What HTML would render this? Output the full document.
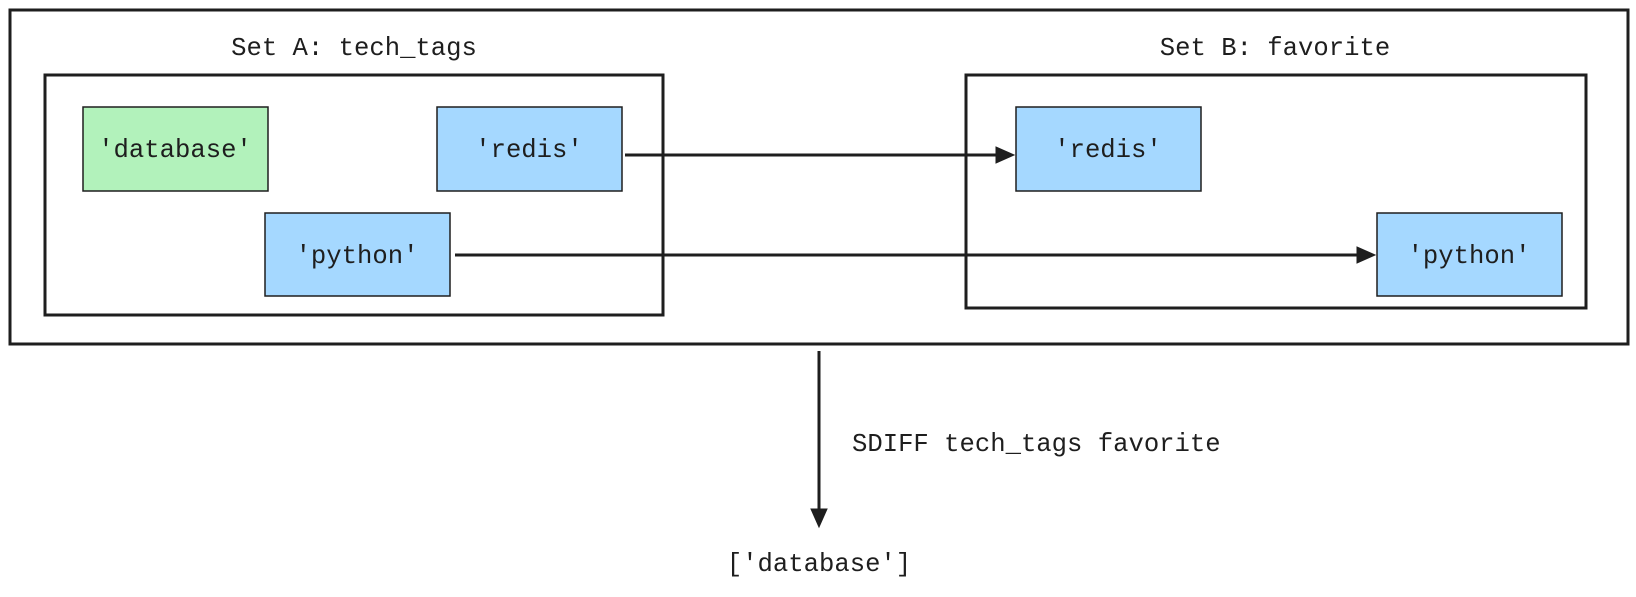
<!DOCTYPE html>
<html><head><style>body{margin:0;background:#fff}</style></head><body>
<svg width="1636" height="592" xmlns="http://www.w3.org/2000/svg" font-family="Liberation Mono, monospace" font-size="25.6" fill="#1e1e1e">
<rect x="10" y="10" width="1618" height="334" fill="none" stroke="#1e1e1e" stroke-width="3"/>
<rect x="45" y="75" width="618" height="240" fill="none" stroke="#1e1e1e" stroke-width="3"/>
<rect x="966" y="75" width="620" height="233" fill="none" stroke="#1e1e1e" stroke-width="3"/>
<text x="354" y="55" text-anchor="middle">Set A: tech_tags</text>
<text x="1275" y="55" text-anchor="middle">Set B: favorite</text>
<g stroke="#1e1e1e" stroke-width="1.5">
<rect x="83" y="107" width="185" height="84" fill="#b2f2bb"/>
<rect x="437" y="107" width="185" height="84" fill="#a5d8ff"/>
<rect x="265" y="213" width="185" height="83" fill="#a5d8ff"/>
<rect x="1016" y="107" width="185" height="84" fill="#a5d8ff"/>
<rect x="1377" y="213" width="185" height="83" fill="#a5d8ff"/>
</g>
<g text-anchor="middle">
<text x="175" y="157">'database'</text>
<text x="529" y="157">'redis'</text>
<text x="357" y="263">'python'</text>
<text x="1108" y="157">'redis'</text>
<text x="1469" y="263">'python'</text>
<text x="819" y="571">['database']</text>
</g>
<text x="852" y="451">SDIFF tech_tags favorite</text>
<g stroke="#1e1e1e" stroke-width="3" fill="#1e1e1e">
<line x1="625" y1="155" x2="998" y2="155"/>
<path d="M1014,155 L996,147 L996,163 Z" stroke-width="1"/>
<line x1="455" y1="255" x2="1359" y2="255"/>
<path d="M1375,255 L1357,247 L1357,263 Z" stroke-width="1"/>
<line x1="819" y1="351" x2="819" y2="511"/>
<path d="M819,527 L811,509 L827,509 Z" stroke-width="1"/>
</g>
</svg>
</body></html>
